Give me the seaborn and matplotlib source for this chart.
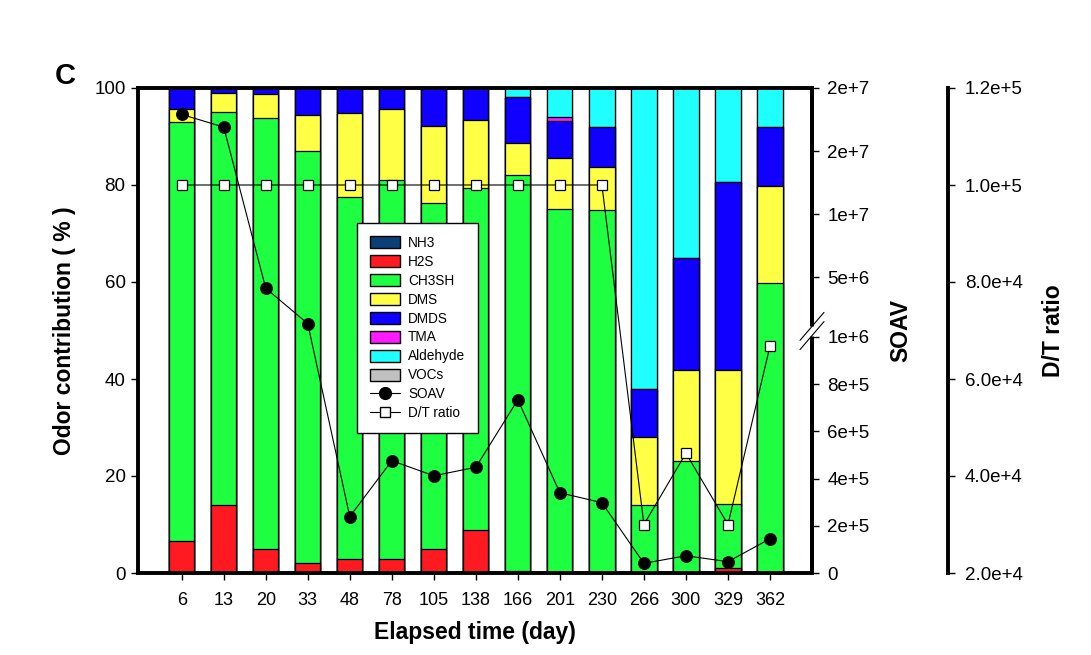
import numpy as np
import matplotlib
matplotlib.use("Agg")
import matplotlib.pyplot as plt
from matplotlib.patches import Patch
from matplotlib.lines import Line2D
import seaborn as sns

# ---------------- data ----------------
days = ['6', '13', '20', '33', '48', '78', '105', '138', '166', '201', '230', '266', '300', '329', '362']

nh3      = [0, 0, 0, 0, 0, 0, 0, 0, 0, 0, 0, 0, 0, 0, 0]
h2s      = [6.5, 14.0, 4.9, 2.1, 2.8, 2.8, 4.9, 8.9, 0.4, 0, 0, 0, 0.3, 1.0, 0]
ch3sh    = [86.4, 81.0, 88.9, 84.9, 74.7, 78.2, 71.3, 70.4, 81.6, 75.0, 74.8, 14.0, 22.8, 13.2, 59.7]
dms      = [2.7, 3.9, 4.9, 7.4, 17.3, 14.7, 15.9, 14.2, 6.6, 10.6, 9.0, 14.0, 18.7, 27.6, 20.0]
dmds     = [4.4, 1.1, 1.3, 5.6, 5.2, 4.3, 7.9, 6.5, 9.5, 7.5, 8.1, 9.9, 23.1, 38.8, 12.2]
tma      = [0, 0, 0, 0, 0, 0, 0, 0, 0, 0.9, 0, 0, 0, 0, 0]
aldehyde = [0, 0, 0, 0, 0, 0, 0, 0, 1.9, 6.0, 8.1, 62.1, 35.1, 19.4, 8.1]
vocs     = [0, 0, 0, 0, 0, 0, 0, 0, 0, 0, 0, 0, 0, 0, 0]

soav = [1.79e7, 1.69e7, 4.25e6, 1.89e6, 2.39e5, 4.76e5, 4.12e5, 4.48e5,
        7.34e5, 3.40e5, 2.98e5, 4.1e4, 7.3e4, 4.8e4, 1.45e5]
dt_ratio = [1e5, 1e5, 1e5, 1e5, 1e5, 1e5, 1e5, 1e5, 1e5, 1e5, 1e5,
            3.0e4, 4.47e4, 3.0e4, 6.68e4]

series_names = ['NH3', 'H2S', 'CH3SH', 'DMS', 'DMDS', 'TMA', 'Aldehyde', 'VOCs']
series_vals = [nh3, h2s, ch3sh, dms, dmds, tma, aldehyde, vocs]
series_colors = ['#0B3F78', '#FF1A22', '#1FFF42', '#FFFF45', '#1000FF', '#FF1AFF', '#20FFFF', '#C0C0C0']

soav_ticks = [0, 2e5, 4e5, 6e5, 8e5, 1e6, 5e6, 1e7, 1.5e7, 2e7]
soav_ticklabels = ['0', '2e+5', '4e+5', '6e+5', '8e+5', '1e+6', '5e+6', '1e+7', '2e+7', '2e+7']
dt_ticks = [2e4, 4e4, 6e4, 8e4, 1e5, 1.2e5]
dt_ticklabels = ['2.0e+4', '4.0e+4', '6.0e+4', '8.0e+4', '1.0e+5', '1.2e+5']

# ---------------- style ----------------
sns.set_style("ticks")
plt.rcParams['font.family'] = ['Liberation Sans', 'DejaVu Sans']
plt.rcParams['text.color'] = 'black'
plt.rcParams['axes.labelcolor'] = 'black'
plt.rcParams['xtick.color'] = 'black'
plt.rcParams['ytick.color'] = 'black'
plt.rcParams['axes.edgecolor'] = 'black'

W, H = 1091, 655
fig = plt.figure(figsize=(W / 100, H / 100), dpi=100)
ax = fig.add_axes([138 / W, 82 / H, 674 / W, 485 / H])

# stacked bars via cumulative overlap (top-most drawn first)
cum = np.cumsum(np.array(series_vals, dtype=float), axis=0)
for i in reversed(range(len(series_vals))):
    sns.barplot(x=days, y=cum[i], order=days, color=series_colors[i], width=0.6,
                saturation=1, edgecolor='black', linewidth=0.9, errorbar=None, ax=ax)

ax.set_xlim(-1.04, 15.0)
ax.set_ylim(0, 100)
ax.set_yticks([0, 20, 40, 60, 80, 100])
for s in ['left', 'right', 'top', 'bottom']:
    ax.spines[s].set_visible(True)
    ax.spines[s].set_linewidth(2.8)
    ax.spines[s].set_color('black')
ax.tick_params(axis='y', direction='out', length=5, width=1, labelsize=13.5, pad=4,
               right=False, colors='black')
ax.tick_params(axis='x', direction='out', length=5, width=1, labelsize=13, pad=9,
               top=False, colors='black')
ax.set_ylabel('Odor contribution ( % )', fontsize=16.5, fontweight='bold', labelpad=13)
ax.set_xlabel('Elapsed time (day)', fontsize=16.5, fontweight='bold', labelpad=8)

# ---------------- SOAV axis (broken scale) ----------------
SX = np.array([-1e6, 0.0, 1e6, 5e6, 2e7, 3.5e7])
SY = np.array([-0.4866, 0.0, 0.4866, 0.6103, 1.0, 1.3897])

def fwd(v):
    return np.interp(np.asarray(v, dtype=float), SX, SY)

def inv(y):
    return np.interp(np.asarray(y, dtype=float), SY, SX)

pos = np.arange(len(days))
ax2 = ax.twinx()
ax2.set_yscale('function', functions=(fwd, inv))
sns.lineplot(x=pos, y=soav, ax=ax2, color='black', marker='o', markersize=8.5,
             markeredgecolor='black', markerfacecolor='black', linewidth=0.8,
             errorbar=None, legend=False, sort=False)
ax2.set_ylim(0, 2e7)
ax2.set_yticks(soav_ticks)
ax2.set_yticklabels(soav_ticklabels)
ax2.yaxis.set_minor_locator(matplotlib.ticker.NullLocator())
for s in ['left', 'top', 'bottom']:
    ax2.spines[s].set_visible(False)
ax2.spines['right'].set_linewidth(2.8)
ax2.spines['right'].set_color('black')
ax2.tick_params(axis='y', direction='out', length=5, width=1, labelsize=13.5, pad=6, colors='black')
ax2.set_ylabel('SOAV', fontsize=16.5, fontweight='bold', labelpad=14)

# ---------------- D/T ratio axis ----------------
ax3 = ax.twinx()
ax3.spines['right'].set_position(('axes', 1 + 136 / 674))
sns.lineplot(x=pos, y=dt_ratio, ax=ax3, color='black', marker='s', markersize=7.5,
             markeredgecolor='black', markerfacecolor='white', markeredgewidth=0.9,
             linewidth=0.8, errorbar=None, legend=False, sort=False)
ax3.set_ylim(2e4, 1.2e5)
ax3.set_yticks(dt_ticks)
ax3.set_yticklabels(dt_ticklabels)
for s in ['left', 'top', 'bottom']:
    ax3.spines[s].set_visible(False)
ax3.spines['right'].set_linewidth(2.8)
ax3.spines['right'].set_color('black')
ax3.tick_params(axis='y', direction='out', length=5, width=1, labelsize=13.5, pad=7, colors='black')
ax3.set_ylabel('D/T ratio', fontsize=16.5, fontweight='bold', labelpad=14)
ax3.set_xlim(-1.04, 15.0)

# axis-break marks on SOAV axis
yb = 0.499
dx, dy = 12 / 674, 14 / 485
ax3.plot([1, 1], [yb - 0.011, yb + 0.011], transform=ax3.transAxes, color='white',
         lw=5, clip_on=False, zorder=20, solid_capstyle='butt')
for off in (-0.0095, 0.0095):
    ax3.plot([1 - dx, 1 + dx], [yb + off - dy, yb + off + dy], transform=ax3.transAxes,
             color='black', lw=0.8, clip_on=False, zorder=21)

# ---------------- legend ----------------
handles = [Patch(facecolor=c, edgecolor='black', linewidth=1) for c in series_colors]
handles.append(Line2D([], [], color='black', lw=0.8, marker='o', markersize=8.5,
                      markerfacecolor='black', markeredgecolor='black'))
handles.append(Line2D([], [], color='black', lw=0.8, marker='s', markersize=7.5,
                      markerfacecolor='white', markeredgecolor='black'))
labels = series_names + ['SOAV', 'D/T ratio']
leg = ax3.legend(handles, labels, loc='upper left', bbox_to_anchor=(0.325, 0.7216),
                 borderaxespad=0, frameon=True, fancybox=False, edgecolor='black',
                 framealpha=1, fontsize=9.8, handlelength=2.2, handleheight=1.0,
                 handletextpad=0.6, labelspacing=0.36, borderpad=0.95)
leg.get_frame().set_linewidth(1)
leg.set_zorder(30)

fig.text(55 / W, 1 - 84 / H, 'C', fontsize=21, fontweight='bold', va='baseline', ha='left')

fig.savefig('out.png', dpi=100)
